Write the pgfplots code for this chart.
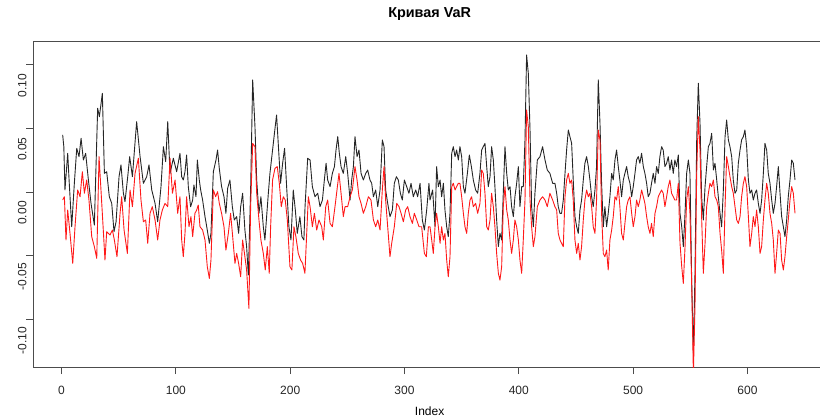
\documentclass[border=0pt]{standalone}
\usepackage{fontspec}
\setmainfont{Liberation Sans}
\usepackage{pgfplots}
\pgfplotsset{compat=1.18}
\begin{document}
\begin{tikzpicture}
\begin{axis}[
  at={(33.3pt,51pt)}, anchor=south west,
  scale only axis, width=792.7pt, height=326pt,
  xmin=-24.7, xmax=668.7, ymin=-0.1371, ymax=0.1183,
  axis line style={black!70, line width=0.8pt},
  tick style={black!70, line width=0.8pt},
  tick align=outside, major tick length=7pt,
  xtick={0,100,200,300,400,500,600}, xticklabels={0,100,200,300,400,500,600},
  ytick={-0.1,-0.05,0,0.05,0.1}, yticklabels={-0.10,-0.05,0.00,0.05,0.10},
  xtick pos=bottom, ytick pos=left,
  ticklabel style={font=\fontsize{12}{14}\selectfont, text=black!85},
  xticklabel style={anchor=base, yshift=-20pt},
  yticklabel style={rotate=90, anchor=base, xshift=-21pt},
  title={\fontsize{14.4}{16}\selectfont\bfseries Кривая VaR},
  title style={at={(axis description cs:0.5,1)}, anchor=base, yshift=17pt},
  xlabel={Index},
  xlabel style={at={(axis description cs:0.5,0)}, anchor=base, yshift=-48pt, font=\fontsize{12}{14}\selectfont},
]
\addplot[black!85, line width=0.9pt, line join=round] coordinates {
(1,0.0447)(2,0.0355)(3,0.0016)(5.4,0.0303)(6.6,0.0094)(8.9,-0.0272)(11.2,0.0068)(13.3,0.0342)(15.3,0.0277)(17.1,0.0421)(19.1,0.0251)(21.1,0.0303)(23.5,0.0094)(25.8,-0.0089)(28.7,-0.0259)(31.6,0.0656)(33.1,0.0590)(35.7,0.0773)(37.5,0.0146)(39.5,0.0159)(41.8,-0.0037)(43.9,-0.0089)(45.9,-0.0311)(47.7,-0.0233)(50.3,0.0120)(52,0.0212)(54.1,-0.0010)(55.5,-0.0076)(57.9,0.0120)(59.6,0.0277)(62,0.0120)(65.7,0.0551)(68.7,0.0277)(71.6,0.0068)(74.5,0.0120)(76.5,0.0212)(78.9,0.0016)(81.8,-0.0089)(84.1,-0.0233)(87,0.0042)(89.1,0.0355)(91.1,0.0238)(92.9,0.0551)(94.9,0.0146)(97.8,0.0264)(100.7,0.0159)
(103.6,0.0303)(105.1,0.0120)(106.5,0.0094)(108.0,0.0159)(109.4,0.0290)(110.9,0.0042)(112.9,-0.0115)(114.7,-0.0063)(115.8,0.0055)(117.6,-0.0037)(118.8,0.0251)(120.5,0.0094)(121.7,0.0016)(123.4,-0.0063)(125.5,-0.0193)(127.5,-0.0298)(129.3,-0.0402)(130.7,-0.0324)(132.8,0.0159)(135.1,0.0251)(136.5,0.0329)(138.0,0.0185)(140.0,0.0042)(142.1,-0.0037)(143.8,-0.0167)(145.3,0.0029)(147.3,0.0094)(149.4,-0.0115)(151.1,-0.0219)(153.2,-0.0193)(154.9,-0.0324)(156.7,-0.0115)(158.4,-0.0010)(160.4,-0.0298)(161.9,-0.0428)(163.4,-0.0650)(165.4,0.0016)(167.2,0.0878)(169.2,0.0512)(170.7,0.0094)(172.7,-0.0167)(174.4,-0.0037)(176.5,-0.0272)(177.9,-0.0376)(179.4,-0.0193)(180.9,-0.0010)(182.3,0.0146)(184.6,0.0329)(186.4,0.0473)(188.1,0.0603)(189.9,0.0329)(191.6,0.0068)(193.4,0.0225)(195.1,0.0342)(196.9,0.0042)(198.9,-0.0272)(200.7,-0.0376)(202.7,0.0016)(204.5,-0.0141)(206.2,-0.0324)(208.5,-0.0193)(210.3,-0.0350)(212.0,-0.0376)
(213.0,-0.0115)(215.3,0.0264)(217.4,0.0251)(219.4,0.0042)(221.7,-0.0037)(224.1,-0.0010)(226.1,-0.0115)(228.2,-0.0063)(229.9,0.0094)(231.4,0.0225)(232.8,0.0094)(234.9,0.0042)(236.9,0.0146)(238.7,0.0199)(240.1,0.0329)(241.6,0.0434)(243.0,0.0303)(244.5,0.0199)(246.5,0.0146)(248.6,0.0277)(250.3,0.0146)(252.4,-0.0063)(253.8,0.0094)(255.3,0.0199)(256.7,0.0434)(258.5,0.0277)(260.2,0.0329)(262.0,0.0146)(264.0,0.0094)(266.1,0.0146)(267.8,0.0172)(269.8,0.0094)(271.3,0.0068)(272.8,-0.0037)(274.8,0.0016)(276.6,-0.0115)(278.6,0.0016)(280.6,0.0408)(282.1,0.0355)(283.5,0.0016)(285.3,-0.0089)(287.3,-0.0193)(289.4,-0.0141)(291.1,0.0068)(292.9,0.0120)(294.6,0.0094)(296.4,-0.0010)(298.1,-0.0063)(299.9,0.0094)(301.9,0.0042)(303.9,-0.0010)(305.7,0.0068)(307.7,-0.0037)(309.8,0.0016)(311.5,-0.0037)(313.6,0.0068)(315.6,-0.0219)(317.4,-0.0298)(319.4,-0.0141)(321.4,0.0068)
(322.3,-0.0063)(324.6,0.0016)(326.7,-0.0272)(328.1,0.0199)(329.6,0.0042)(331.1,0.0094)(332.5,-0.0037)(334.0,0.0068)(335.4,-0.0141)(336.9,-0.0272)(338.3,-0.0350)(339.8,-0.0167)(341.3,0.0303)(342.7,0.0355)(344.2,0.0277)(345.6,0.0329)(347.1,0.0251)(348.5,0.0355)(350.0,0.0277)(351.5,0.0042)(352.9,-0.0010)(355.0,0.0146)(356.7,0.0290)(358.5,0.0199)(360.2,0.0094)(362.2,0.0016)(364.0,-0.0010)(366.0,0.0146)(367.5,0.0329)(368.9,0.0355)(370.4,0.0381)(371.9,0.0199)(373.3,0.0042)(374.8,0.0120)(376.2,0.0355)(377.7,0.0251)(379.1,0.0042)(380.6,-0.0219)(382.1,-0.0428)(383.5,-0.0324)(385.0,-0.0376)(386.4,-0.0010)(387.9,0.0355)(389.4,0.0146)(390.8,0.0016)(392.3,0.0042)(393.7,-0.0115)(395.2,-0.0193)(396.6,-0.0037)(398.1,0.0068)(399.6,0.0199)(401.0,-0.0115)(402.5,0.0042)(403.9,0.0042)(405.4,0.0408)(406.8,0.1074)(408.3,0.0930)(409.8,0.0486)(411.2,-0.0115)(412.7,-0.0272)(414.1,-0.0010)(416.2,0.0251)(418.5,0.0277)(420.8,0.0355)(422.9,0.0251)(424.9,0.0172)(427.2,0.0146)(429.6,0.0068)
(431.6,0.0068)(433.1,-0.0010)(434.5,-0.0115)(436.0,-0.0167)(437.4,-0.0167)(438.9,-0.0063)(440.4,0.0146)(441.8,0.0329)(443.3,0.0486)(444.7,0.0434)(446.2,0.0381)(447.6,0.0094)(449.1,-0.0193)(450.6,-0.0272)(452.0,-0.0324)(453.5,-0.0141)(454.9,-0.0063)(456.4,0.0094)(457.8,0.0225)(459.3,0.0277)(460.8,0.0199)(462.2,0.0094)(463.7,-0.0037)(465.1,-0.0115)(466.6,0.0016)(468.0,0.0199)(469.5,0.0878)(471.0,0.0538)(472.4,0.0068)(473.9,-0.0272)(475.3,-0.0115)(476.8,-0.0272)(478.2,-0.0167)(479.7,-0.0037)(481.2,0.0146)(482.6,0.0094)(484.1,0.0251)(485.5,0.0329)(487.0,0.0199)(488.4,0.0094)(489.9,-0.0037)(491.4,0.0094)(492.8,0.0146)(494.3,0.0199)(495.7,0.0120)(497.2,0.0068)(498.7,-0.0037)(500.1,0.0042)(501.6,0.0146)(503.0,0.0251)(504.5,0.0277)(505.9,0.0225)(507.4,0.0303)(508.9,0.0199)(510.3,0.0146)(511.8,0.0068)(513.2,-0.0037)(514.7,-0.0010)(516.1,0.0068)(517.6,0.0146)(519.1,0.0068)(520.5,0.0199)(522.0,0.0146)(523.4,0.0277)(524.9,0.0355)(526.3,0.0329)(527.8,0.0199)(529.3,0.0225)(530.7,0.0277)(532.2,0.0172)(533.6,0.0251)(535.1,0.0146)(536.5,0.0251)(538.0,0.0199)(539.5,0.0290)
(541.0,-0.0167)(542.5,-0.0272)(543.9,-0.0428)(545.4,-0.0167)(546.8,0.0146)(548.3,0.0251)(549.7,0.0146)(551.2,-0.0690)(552.7,-0.1264)(554.1,-0.0637)(555.6,0.0408)(557.0,0.0852)(558.5,0.0538)(559.9,-0.0037)(561.4,-0.0219)(562.9,0.0042)(564.3,0.0199)(565.8,0.0355)(567.2,0.0381)(568.7,0.0460)(570.2,0.0172)(571.6,0.0225)(573.1,0.0094)(574.5,-0.0037)(576.0,-0.0167)(577.4,-0.0272)(578.9,0.0016)(580.4,0.0434)(581.8,0.0564)(583.3,0.0408)(584.7,0.0355)(586.2,0.0277)(587.6,0.0094)(589.1,-0.0010)(590.6,0.0016)(592.0,0.0225)(593.5,0.0329)(594.9,0.0408)(596.4,0.0434)(597.8,0.0486)(599.3,0.0355)(600.8,0.0094)(602.2,-0.0010)(603.7,0.0016)(605.1,-0.0063)(606.6,-0.0010)(608.0,0.0016)(609.5,-0.0089)(611.0,-0.0167)(612.4,-0.0063)(613.9,0.0146)(615.3,0.0381)(616.8,0.0329)(618.2,0.0146)(619.7,0.0068)(621.2,-0.0063)(622.6,-0.0167)(624.1,-0.0089)(625.5,0.0042)(627.0,0.0199)(628.5,-0.0010)(629.9,-0.0193)(631.4,-0.0272)(632.8,-0.0350)(634.3,-0.0219)(635.7,-0.0037)(637.2,0.0094)(638.7,0.0251)(640.1,0.0225)(641.6,0.0094)
};
\addplot[red!90, line width=0.9pt, line join=round] coordinates {
(1,-0.0063)(2.5,-0.0037)(3.9,-0.0376)(5.4,-0.0141)(7.4,-0.0324)(9.8,-0.0559)(11.8,-0.0272)(14.1,0.0016)(16.2,-0.0037)(18.2,0.0159)(20,-0.0010)(22,0.0094)(24,-0.0063)(26.4,-0.0350)(28.7,-0.0428)(30.8,-0.0520)(32.8,0.0277)(34.5,0.0016)(36.6,-0.0311)(38,-0.0533)(39.5,-0.0311)(42.4,-0.0337)(44.5,-0.0298)(46.2,-0.0376)(48.5,-0.0507)(51.2,-0.0167)(52.6,-0.0037)(54.7,-0.0298)(57.6,-0.0481)(59.9,0.0016)(62,-0.0115)(64.3,0.0146)(67.2,0.0264)(69.5,-0.0063)(71.6,-0.0233)(73.6,-0.0219)(75.4,-0.0402)(77.4,-0.0167)(79.4,-0.0115)(81.8,-0.0219)(84.1,-0.0376)(86.1,-0.0219)(88.2,-0.0141)(90.5,-0.0089)(92.9,-0.0115)(94.9,0.0264)(97,-0.0010)(99.3,0.0094)(101.6,-0.0167)
(103.6,-0.0037)(105.1,-0.0376)(106.5,-0.0507)(108.0,-0.0324)(109.4,-0.0037)(111.5,-0.0272)(113.2,-0.0193)(114.7,-0.0350)(116.7,-0.0167)(118.2,-0.0141)(119.6,-0.0102)(121.1,-0.0272)(123.4,-0.0298)(125.5,-0.0376)(127.5,-0.0585)(129.3,-0.0677)(130.7,-0.0533)(132.8,0.0016)(134.8,-0.0037)(136.5,0.0003)(138.0,-0.0089)(140.0,-0.0167)(142.1,-0.0272)(143.8,-0.0455)(145.9,-0.0324)(147.9,-0.0167)(149.7,-0.0350)(151.7,-0.0559)(153.2,-0.0481)(154.9,-0.0559)(156.7,-0.0664)(158.4,-0.0376)(160.4,-0.0507)(161.9,-0.0611)(163.9,-0.0912)(165.4,-0.0115)(167.2,0.0381)(169.2,0.0355)(170.7,-0.0010)(172.7,-0.0219)(174.4,-0.0376)(176.5,-0.0481)(178.2,-0.0611)(180.0,-0.0428)(181.7,-0.0637)(182.9,-0.0272)(184.6,0.0094)(186.7,0.0185)(188.7,0.0199)(190.5,0.0068)(192.2,-0.0115)(194.0,-0.0037)(195.7,-0.0063)(197.5,-0.0219)(199.8,-0.0585)(201.5,-0.0611)(203.3,-0.0272)(205.0,-0.0350)(207.1,-0.0481)(209.1,-0.0533)(210.9,-0.0559)(212.9,-0.0637)
(215.9,-0.0037)(217.4,-0.0115)(219.4,-0.0272)(221.2,-0.0167)(223.2,-0.0298)(225.2,-0.0219)(227.6,-0.0272)(229.0,-0.0376)(231.1,-0.0115)(232.8,-0.0063)(234.9,-0.0246)(236.9,-0.0272)(239.2,-0.0115)(241.3,0.0042)(242.7,0.0146)(244.5,-0.0010)(246.5,-0.0193)(248.0,-0.0115)(250.3,-0.0115)(252.4,-0.0037)(254.4,0.0016)(256.7,0.0199)(258.5,0.0094)(260.2,-0.0037)(262.0,-0.0089)(264.0,-0.0167)(266.1,-0.0115)(268.4,-0.0037)(270.7,-0.0063)(272.8,-0.0219)(274.8,-0.0272)(276.6,-0.0219)(278.6,-0.0298)(280.6,0.0016)(282.1,0.0199)(283.5,-0.0063)(285.3,-0.0272)(287.3,-0.0507)(288.8,-0.0402)(291.1,-0.0272)(293.2,-0.0089)(295.2,-0.0115)(297.0,-0.0167)(299.0,-0.0233)(301.0,-0.0141)(302.8,-0.0115)(304.8,-0.0193)(306.9,-0.0246)(308.6,-0.0167)(310.7,-0.0219)(312.7,-0.0272)(315.0,-0.0272)(317.4,-0.0481)(319.1,-0.0507)(320.9,-0.0272)
(322.3,-0.0272)(323.8,-0.0376)(325.2,-0.0481)(326.7,-0.0272)(328.1,-0.0167)(329.6,-0.0272)(331.1,-0.0402)(332.5,-0.0272)(334.0,-0.0376)(335.4,-0.0324)(336.9,-0.0533)(338.3,-0.0664)(339.8,-0.0507)(341.3,0.0042)(342.7,0.0068)(344.2,0.0016)(345.6,0.0042)(347.1,0.0068)(348.5,0.0068)(350.0,-0.0037)(351.5,-0.0167)(352.9,-0.0272)(354.4,-0.0324)(355.8,-0.0167)(357.3,-0.0063)(358.7,-0.0037)(360.2,-0.0115)(362.2,-0.0089)(364.0,-0.0167)(366.0,-0.0089)(367.5,0.0172)(368.9,0.0146)(370.4,-0.0010)(371.9,-0.0272)(373.3,-0.0298)(374.8,-0.0219)(376.2,-0.0010)(377.7,-0.0115)(379.1,-0.0272)(380.6,-0.0481)(382.1,-0.0637)(383.5,-0.0690)(385.0,-0.0585)(386.4,-0.0115)(387.9,0.0042)(389.4,-0.0141)(390.8,-0.0219)(392.3,-0.0376)(393.7,-0.0481)(395.2,-0.0376)(396.6,-0.0219)(398.1,-0.0272)(399.6,-0.0376)(401.0,-0.0533)(402.5,-0.0637)(403.9,-0.0376)(405.4,-0.0063)(406.8,0.0643)(408.3,0.0512)(409.8,-0.0063)(411.2,-0.0272)(412.7,-0.0428)(414.1,-0.0350)(416.2,-0.0115)(418.5,-0.0063)(420.8,-0.0037)(422.9,-0.0063)(424.9,-0.0115)(427.2,-0.0010)(429.6,-0.0063)
(431.6,-0.0115)(433.1,-0.0141)(434.5,-0.0324)(436.0,-0.0376)(437.4,-0.0402)(438.9,-0.0428)(440.4,-0.0037)(441.8,0.0094)(443.3,0.0146)(444.7,0.0068)(446.2,0.0094)(447.6,-0.0063)(449.1,-0.0376)(450.6,-0.0481)(452.0,-0.0402)(453.5,-0.0533)(454.9,-0.0428)(456.4,-0.0219)(457.8,-0.0063)(459.3,0.0016)(460.8,-0.0037)(462.2,-0.0010)(463.7,-0.0115)(465.1,-0.0272)(466.6,-0.0324)(468.0,-0.0063)(469.5,0.0486)(471.0,0.0408)(472.4,-0.0167)(473.9,-0.0481)(475.3,-0.0507)(476.8,-0.0455)(478.2,-0.0611)(479.7,-0.0376)(481.2,-0.0298)(482.6,-0.0193)(484.1,-0.0037)(485.5,-0.0063)(487.0,0.0042)(488.4,-0.0115)(489.9,-0.0324)(491.4,-0.0376)(492.8,-0.0246)(494.3,-0.0115)(495.7,-0.0063)(497.2,-0.0037)(498.7,-0.0167)(500.1,-0.0272)(501.6,-0.0193)(503.0,-0.0063)(504.5,-0.0115)(505.9,-0.0063)(507.4,0.0016)(508.9,-0.0037)(510.3,-0.0089)(511.8,-0.0193)(513.2,-0.0272)(514.7,-0.0324)(516.1,-0.0246)(517.6,-0.0350)(519.1,-0.0167)(520.5,-0.0115)(522.0,-0.0037)(523.4,-0.0010)(524.9,0.0016)(526.3,-0.0010)(527.8,-0.0115)(529.3,-0.0037)(530.7,0.0042)(532.2,0.0094)(533.6,-0.0010)(535.1,-0.0037)(536.5,-0.0063)(538.0,-0.0063)(539.5,0.0068)
(541.0,-0.0402)(542.5,-0.0585)(543.9,-0.0716)(545.4,-0.0428)(546.8,-0.0063)(548.3,0.0042)(549.7,-0.0167)(551.2,-0.0716)(552.7,-0.1421)(554.1,-0.0899)(555.6,0.0146)(557.0,0.0590)(558.5,0.0329)(559.9,-0.0193)(561.4,-0.0637)(562.9,-0.0402)(564.3,-0.0115)(565.8,-0.0010)(567.2,0.0068)(568.7,0.0042)(570.2,0.0094)(571.6,-0.0037)(573.1,-0.0063)(574.5,-0.0115)(576.0,-0.0324)(577.4,-0.0455)(578.9,-0.0637)(580.4,-0.0115)(581.8,0.0277)(583.3,0.0199)(584.7,0.0120)(586.2,0.0042)(587.6,-0.0010)(589.1,-0.0115)(590.6,-0.0219)(592.0,-0.0246)(593.5,-0.0193)(594.9,-0.0037)(596.4,0.0068)(597.8,0.0120)(599.3,0.0042)(600.8,-0.0193)(602.2,-0.0428)(603.7,-0.0324)(605.1,-0.0193)(606.6,-0.0272)(608.0,-0.0141)(609.5,-0.0272)(611.0,-0.0481)(612.4,-0.0428)(613.9,-0.0219)(615.3,-0.0063)(616.8,0.0068)(618.2,-0.0010)(619.7,-0.0167)(621.2,-0.0246)(622.6,-0.0376)(624.1,-0.0637)(625.5,-0.0481)(627.0,-0.0298)(628.5,-0.0324)(629.9,-0.0533)(631.4,-0.0611)(632.8,-0.0507)(634.3,-0.0350)(635.7,-0.0219)(637.2,-0.0063)(638.7,0.0042)(640.1,-0.0010)(641.6,-0.0167)
};
\end{axis}
\pgfresetboundingbox
\path[use as bounding box] (0,0) rectangle (820pt,418pt);
\end{tikzpicture}
\end{document}
